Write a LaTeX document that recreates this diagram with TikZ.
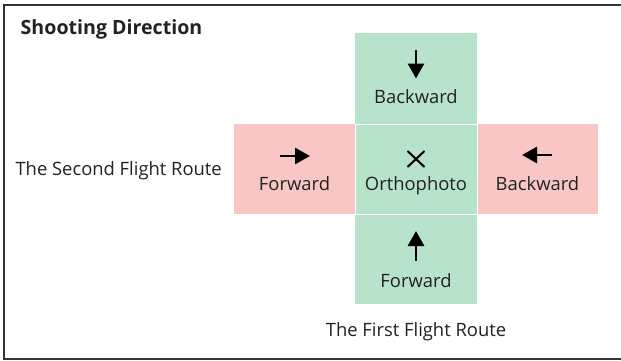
\documentclass[tikz,border=0pt]{standalone}
\usepackage{fontspec}
\setmainfont{Open Sans}
\newcommand{\CellW}{122}
\newcommand{\CellH}{91}
\newcommand{\TextSize}{\fontsize{18.4}{22}\selectfont}
\usepackage{xcolor}
\usepackage{tikz}
\usetikzlibrary{arrows.meta,positioning}
\definecolor{mintcell}{HTML}{B8E3CB}
\definecolor{rosecell}{HTML}{F8C6C4}
\definecolor{inkgray}{HTML}{222222}
\tikzset{
  cell/.style={minimum width=\CellW pt,minimum height=\CellH pt,inner sep=0pt,outer sep=0pt},
  mint/.style={cell,fill=mintcell},
  rose/.style={cell,fill=rosecell},
  celltext/.style={font=\TextSize,text=inkgray,anchor=base,inner sep=0pt},
  dirarrow/.style={line width=2.8pt,draw=black,-{Triangle[width=16pt,length=15pt]}},
  frameline/.style={line width=1.3pt,draw=black!80}
}

\begin{document}
\begin{tikzpicture}[x=1pt,y=1pt]
\useasboundingbox (0,0) rectangle (621,360);
\draw[frameline] (622,355)--(4,355)--(4,1)--(622,1);
\node[font=\fontsize{19.6}{22}\selectfont\bfseries,text=inkgray,anchor=base west,inner sep=0pt] (title) at (20.5,326) {Shooting Direction};
% cells of the cross
\node[mint,minimum height=90pt] (ortho) at (416,191) {};
\node[mint,above=0pt of ortho] (topcell) {};
\node[mint,below=0pt of ortho,minimum height=90pt] (botcell) {};
\node[rose,left=0pt of ortho,minimum width=121pt,minimum height=90pt] (leftcell) {};
\node[rose,right=0pt of ortho,minimum width=121pt,minimum height=90pt] (rightcell) {};
\draw[white,line width=.8pt] (ortho.south west) rectangle (ortho.north east);
% arrows and labels
\coordinate (topfrom) at ([yshift=28.5pt]topcell.center);
\coordinate (topto) at ([yshift=0pt]topcell.center);
\draw[dirarrow] (topfrom)--(topto);
\node[celltext] (toplabel) at ([yshift=-24.5pt]topcell.center) {Backward};
\coordinate (leftfrom) at ([xshift=-14.5pt,yshift=13pt]leftcell.center);
\coordinate (leftto) at ([xshift=15.5pt,yshift=13pt]leftcell.center);
\draw[dirarrow] (leftfrom)--(leftto);
\node[celltext] (leftlabel) at ([yshift=-21.5pt]leftcell.center) {Forward};
\coordinate (rightfrom) at ([xshift=14.5pt,yshift=14pt]rightcell.center);
\coordinate (rightto) at ([xshift=-15.5pt,yshift=14pt]rightcell.center);
\draw[dirarrow] (rightfrom)--(rightto);
\node[celltext] (rightlabel) at ([yshift=-21.5pt]rightcell.center) {Backward};
\coordinate (botfrom) at ([yshift=-2pt]botcell.center);
\coordinate (botto) at ([yshift=28pt]botcell.center);
\draw[dirarrow] (botfrom)--(botto);
\node[celltext] (botlabel) at ([yshift=-28.5pt]botcell.center) {Forward};
\coordinate (crossmid) at ([yshift=10pt]ortho.center);
\draw[line width=2pt] ([xshift=-8.5pt,yshift=-8pt]crossmid)--([xshift=8.5pt,yshift=8pt]crossmid)
  ([xshift=-8.5pt,yshift=8pt]crossmid)--([xshift=8.5pt,yshift=-8pt]crossmid);
\node[celltext] (ortholabel) at ([yshift=-21.5pt]ortho.center) {Orthophoto};
% route names
\node[celltext,anchor=base east] (secondroute) at ([xshift=-12pt,yshift=-6.7pt]leftcell.west) {The Second Flight Route};
\node[celltext] (firstroute) at ([yshift=-32pt]botcell.south) {The First Flight Route};
\end{tikzpicture}
\end{document}
